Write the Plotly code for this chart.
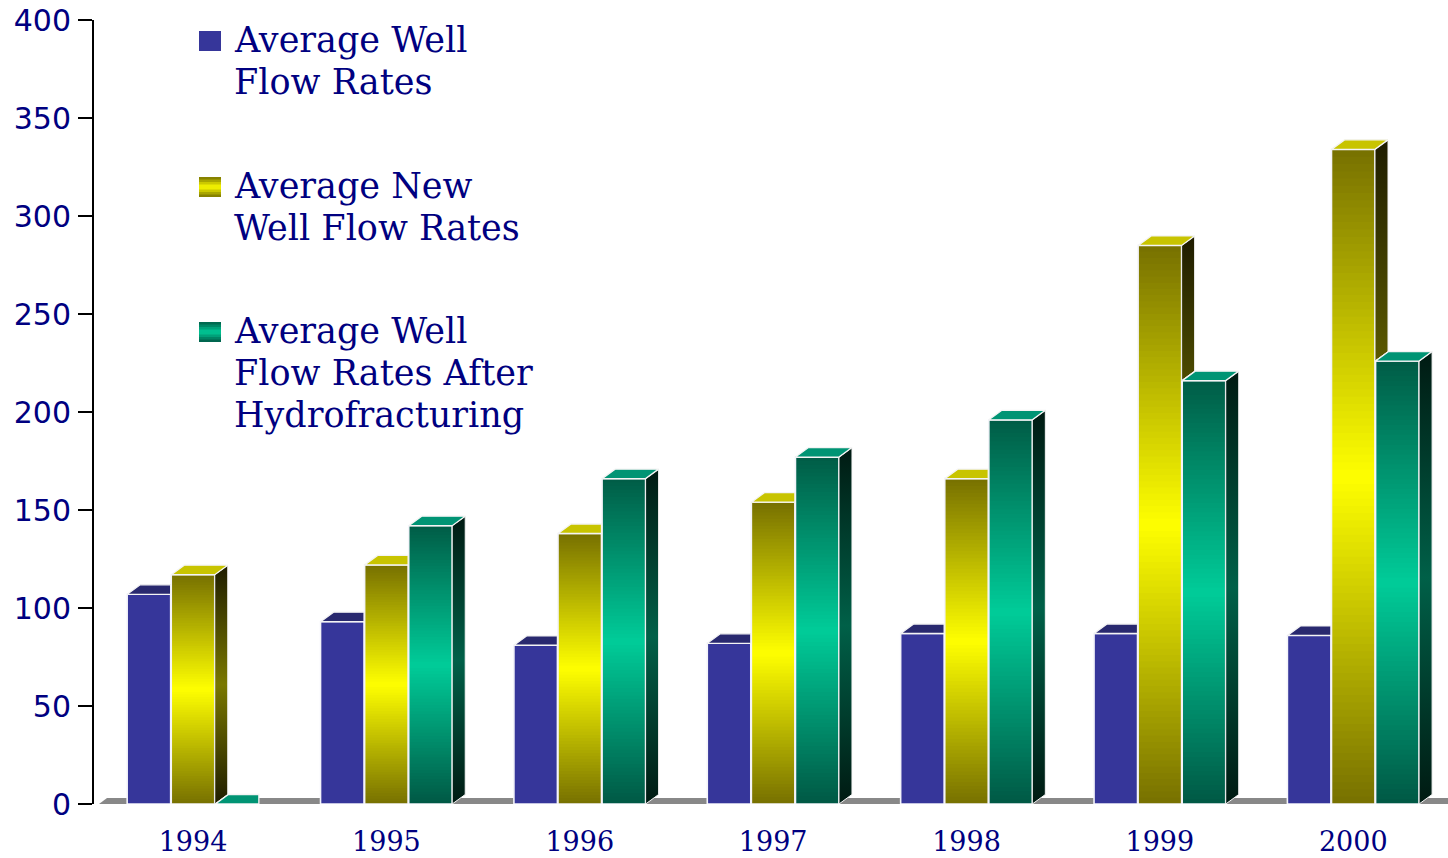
import plotly.graph_objects as go

# ---------------- data ----------------
years = ["1994", "1995", "1996", "1997", "1998", "1999", "2000"]
avg_well_flow = [107, 93, 81, 82, 87, 87, 86]
avg_new_well_flow = [117, 122, 138, 154, 166, 285, 334]
avg_after_hydrofrac = [0, 142, 166, 177, 196, 216, 226]
y_tick_values = [0, 50, 100, 150, 200, 250, 300, 350, 400]
legend_blue = ["Average Well", "Flow Rates"]
legend_yellow = ["Average New", "Well Flow Rates"]
legend_green = ["Average Well", "Flow Rates After", "Hydrofracturing"]

# ---------------- geometry / style ----------------
FIG_W, FIG_H = 1448, 858
M_L, M_R, M_T, M_B = 94, 0, 20, 54
X_RANGE = [-0.512, 6.49]
Y_RANGE = [0, 400]
PX_X = (FIG_W - M_L - M_R) / (X_RANGE[1] - X_RANGE[0])
PX_Y = (FIG_H - M_T - M_B) / (Y_RANGE[1] - Y_RANGE[0])

BAR_W = 0.225
BAR_STEP = 0.228
DX = 13 / PX_X
DY = 9.5 / PX_Y
N_SEG = 90
NAVY = "#000080"
SERIF = "DejaVu Serif, Liberation Serif, serif"
SANS = "DejaVu Sans, Liberation Sans, sans-serif"


def hex2rgb(h):
    h = h.lstrip("#")
    return tuple(int(h[i:i + 2], 16) for i in (0, 2, 4))


def grad(stops, t):
    for (t0, c0), (t1, c1) in zip(stops[:-1], stops[1:]):
        if t0 <= t <= t1:
            f = 0 if t1 == t0 else (t - t0) / (t1 - t0)
            a, b = hex2rgb(c0), hex2rgb(c1)
            r = [round(a[i] + (b[i] - a[i]) * f) for i in range(3)]
            return "rgb(%d,%d,%d)" % tuple(r)
    return stops[-1][1]


series = [
    dict(name="Average Well Flow Rates", values=avg_well_flow, solid="#36369a",
         front=[(0, "#36369a"), (1, "#36369a")],
         side=[(0, "#1c1c50"), (1, "#1c1c50")], top="#29296f"),
    dict(name="Average New Well Flow Rates", values=avg_new_well_flow, solid=None,
         front=[(0, "#767000"), (0.5, "#ffff00"), (1, "#767000")],
         side=[(0, "#1e1c00"), (0.5, "#7a7800"), (1, "#1e1c00")], top="#c8c400"),
    dict(name="Average Well Flow Rates After Hydrofracturing", values=avg_after_hydrofrac,
         solid=None,
         front=[(0, "#005844"), (0.5, "#00cc99"), (1, "#005c46")],
         side=[(0, "#001a12"), (0.5, "#006048"), (1, "#001a12")], top="#009474"),
]

idx = list(range(len(years)))
fig = go.Figure()

# ---- front faces (bars) ----
for s_i, s in enumerate(series):
    off = (s_i - 1) * BAR_STEP - BAR_W / 2
    s["off"] = off
    vals = s["values"]
    if s["solid"] is None:
        xs, ys, bases, cols = [], [], [], []
        for i, v in zip(idx, vals):
            for k in range(N_SEG):
                b = k * v / N_SEG
                xs.append(i)
                # segments overlap the next one slightly to avoid seams
                ys.append(min(v - b, 2.5 * v / N_SEG))
                bases.append(b)
                cols.append(grad(s["front"], (k + 0.5) / N_SEG))
        fig.add_trace(go.Bar(x=xs, y=ys, base=bases, width=BAR_W, offset=off,
                             marker=dict(color=cols, line=dict(width=0)),
                             hoverinfo="skip", showlegend=False))
        fill = "rgba(0,0,0,0)"
    else:
        fill = s["solid"]
    fig.add_trace(go.Bar(x=idx, y=vals, width=BAR_W, offset=off, name=s["name"],
                         marker=dict(color=fill,
                                     line=dict(color="#f4f4fa", width=1.6)),
                         showlegend=False))

# ---- top and side faces (3-D look) ----
for s_i, s in enumerate(series):
    vals = s["values"]
    nxt = series[s_i + 1]["values"] if s_i + 1 < len(series) else [0] * len(vals)
    tx, ty = [], []
    for i, v, v2 in zip(idx, vals, nxt):
        xl = i + s["off"]
        xr = xl + BAR_W
        if v2 >= v:
            px = [xl, xr, xr, xl + DX, xl]
        else:
            px = [xl, xr, xr + DX, xl + DX, xl]
        py = [v, v, v + DY, v + DY, v]
        tx += px + [None]
        ty += py + [None]
        if v2 < v:
            fig.add_trace(go.Scatter(
                x=[xr, xr + DX, xr + DX, xr, xr],
                y=[v2, v2 + DY, v + DY, v, v2],
                mode="lines", fill="toself",
                fillgradient=dict(type="vertical", start=0, stop=v + DY,
                                  colorscale=[[t, c] for t, c in s["side"]]),
                line=dict(color="#f4f4f4", width=1),
                hoverinfo="skip", showlegend=False))
    fig.add_trace(go.Scatter(x=tx, y=ty, mode="lines", fill="toself",
                             fillcolor=s["top"], line=dict(color="#f4f4f4", width=1.3),
                             hoverinfo="skip", showlegend=False))

# ---- floor ----
FDX, FDY = 8 / PX_X, 6 / PX_Y
xL = X_RANGE[0] + 5 / PX_X
xR = X_RANGE[1] + 0.2
shapes = [dict(type="path", xref="x", yref="y", layer="below",
               path=f"M {xL},0 L {xR},0 L {xR + FDX},{FDY} L {xL + FDX},{FDY} Z",
               fillcolor="#888888", line=dict(width=0))]


# ---- legend (text + icons) ----
def px2paper_x(px):
    return (px - M_L) / (FIG_W - M_L - M_R)


def px2paper_y(py):
    return (FIG_H - M_B - py) / (FIG_H - M_T - M_B)


annotations = []
LEG_FS = 35
legend_entries = [(legend_blue, series[0], 52), (legend_yellow, series[1], 198),
                  (legend_green, series[2], 343)]
for lines, s, base_y in legend_entries:
    for j, line in enumerate(lines):
        bl = base_y + j * 42
        annotations.append(dict(text=line, xref="paper", yref="paper",
                                x=px2paper_x(233), y=px2paper_y(bl - 0.346 * LEG_FS),
                                xanchor="left", yanchor="middle", showarrow=False,
                                borderpad=0,
                                font=dict(family=SERIF, size=LEG_FS, color=NAVY)))
    # icon
    icon_top = base_y - 21
    n_str = 1 if s["solid"] else 8
    for k in range(n_str):
        y0 = icon_top + 20 * k / n_str
        y1 = min(icon_top + 20, icon_top + 20 * (k + 1.6) / n_str)
        shapes.append(dict(type="rect", xref="paper", yref="paper",
                           x0=px2paper_x(199), x1=px2paper_x(221),
                           y0=px2paper_y(y1), y1=px2paper_y(y0),
                           fillcolor=grad(s["front"], 1 - (k + 0.5) / n_str),
                           line=dict(width=0)))

fig.update_layout(
    width=FIG_W, height=FIG_H,
    margin=dict(l=M_L, r=M_R, t=M_T, b=M_B),
    paper_bgcolor="white", plot_bgcolor="white",
    barmode="overlay",
    showlegend=False,
    shapes=shapes,
    annotations=annotations,
    xaxis=dict(range=X_RANGE, tickvals=idx, ticktext=years, showgrid=False,
               zeroline=False, showline=False, ticks="",
               ticklabelstandoff=19,
               tickfont=dict(family=SERIF, size=27, color=NAVY)),
    yaxis=dict(range=Y_RANGE, tickvals=y_tick_values, showgrid=False,
               zeroline=False, showline=True, linecolor="black", linewidth=2,
               ticks="outside", ticklen=14, tickwidth=2, tickcolor="black",
               ticklabelstandoff=1,
               tickfont=dict(family=SANS, size=30, color=NAVY)),
)

fig.write_html("out.html", config={"displayModeBar": False},
               post_script="document.body.style.margin='0';document.body.style.overflow='hidden';")
